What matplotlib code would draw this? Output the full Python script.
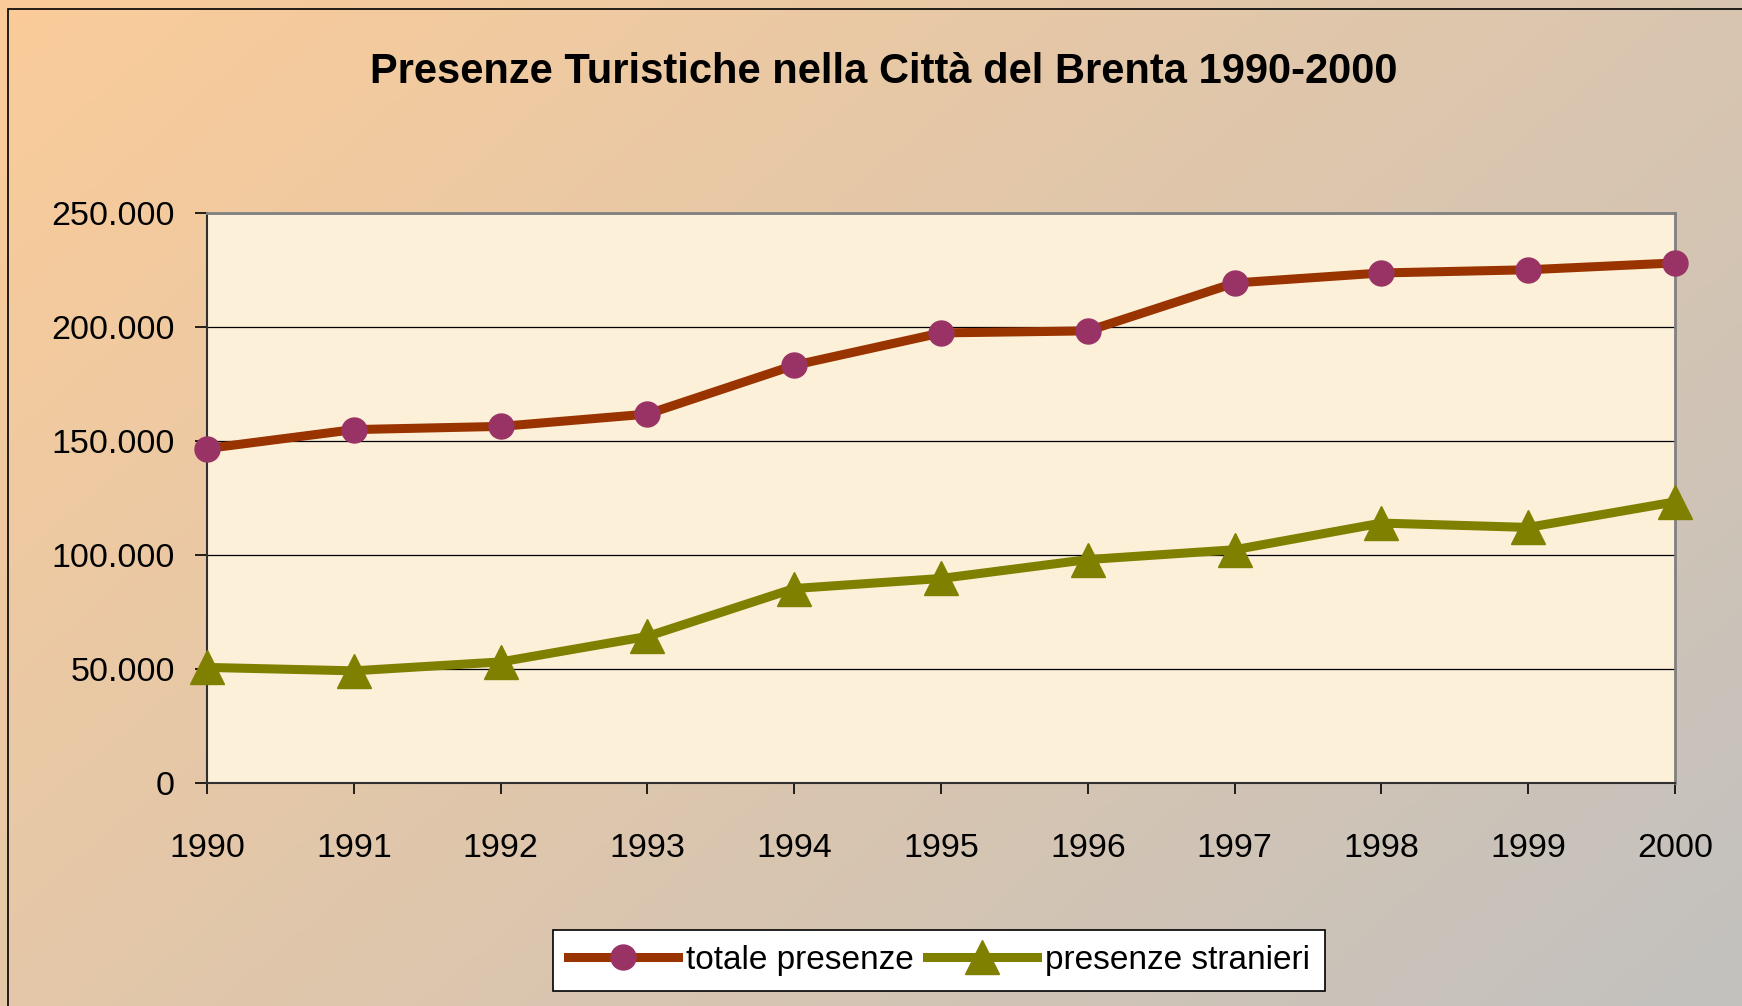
import numpy as np
import matplotlib
matplotlib.use("Agg")
import matplotlib.pyplot as plt
from matplotlib.ticker import FuncFormatter, MultipleLocator
from matplotlib.patches import Rectangle

# Data
years = [1990, 1991, 1992, 1993, 1994, 1995, 1996, 1997, 1998, 1999, 2000]
totale_presenze = [146700, 155000, 156400, 161800, 183200, 197400, 198300, 219300, 223700, 225100, 228100]
presenze_stranieri = [50700, 49200, 53100, 64300, 85300, 89700, 98000, 102300, 114000, 112100, 123300]

title = "Presenze Turistiche nella Città del Brenta 1990-2000"
labels = ["totale presenze", "presenze stranieri"]

plt.rcParams["font.family"] = ["Liberation Sans", "DejaVu Sans"]

W, H, DPI = 1742, 1006, 100
fig = plt.figure(figsize=(W / DPI, H / DPI), dpi=DPI)

# diagonal gradient background (peach -> grey)
bg = fig.add_axes([0, 0, 1, 1], zorder=-10)
gx, gy = np.meshgrid(np.linspace(0, 1, 400), np.linspace(0, 1, 240))
t = np.clip((gx * 0.6 + gy * 0.4), 0, 1)[..., None]
c0 = np.array([251, 204, 153]) / 255
c1 = np.array([194, 193, 191]) / 255
bg.imshow(c0 * (1 - t) + c1 * t, aspect="auto", extent=[0, 1, 1, 0])
bg.set_xlim(0, 1)
bg.set_ylim(1, 0)
bg.axis("off")

# border on the top and left of the chart area
fig.patches.append(Rectangle((8 / W, -0.01), 1.0, 1.01 - 9 / H, transform=fig.transFigure,
                             fill=False, edgecolor="black", linewidth=1.2))

ax = fig.add_axes([207 / W, 1 - 783 / H, (1675 - 207) / W, (783 - 213) / H])
ax.set_facecolor("#FCF0D9")

ax.plot(years, totale_presenze, color="#993300", linewidth=6.5, marker="o",
        markersize=18, markerfacecolor="#993366", markeredgecolor="#993366",
        clip_on=False, zorder=4, label=labels[0])
ax.plot(years, presenze_stranieri, color="#808000", linewidth=6.5, marker="^",
        markersize=25, markerfacecolor="#808000", markeredgecolor="#808000",
        clip_on=False, zorder=4, label=labels[1])

ax.set_xlim(1990, 2000)
ax.set_ylim(0, 250000)
ax.set_xticks(years)
ax.yaxis.set_major_locator(MultipleLocator(50000))
ax.yaxis.set_major_formatter(FuncFormatter(lambda v, p: f"{v:,.0f}".replace(",", ".")))
ax.grid(axis="y", color="black", linewidth=0.9)
ax.set_axisbelow(True)

for s in ["top", "right"]:
    ax.spines[s].set_color("#808080")
    ax.spines[s].set_linewidth(2)
for s in ["left", "bottom"]:
    ax.spines[s].set_color("#303030")
    ax.spines[s].set_linewidth(1.5)

ax.tick_params(axis="y", direction="out", length=9, width=1.2, pad=14, labelsize=24.5)
ax.tick_params(axis="x", direction="out", length=8, width=1.2, pad=28, labelsize=24.5)

fig.text(884 / W, 1 - 72 / H, title, ha="center", va="center",
         fontsize=30, fontweight="bold")

leg = fig.legend(loc="center", bbox_to_anchor=(939 / W, 1 - 960 / H),
                 bbox_transform=fig.transFigure, ncol=2, fontsize=24,
                 frameon=True, fancybox=False, handlelength=3.3,
                 handletextpad=0.25, columnspacing=0.4, borderpad=0.45,
                 borderaxespad=0, numpoints=1)
leg.get_frame().set_facecolor("white")
leg.get_frame().set_edgecolor("black")
leg.get_frame().set_linewidth(1.2)
leg.get_frame().set_alpha(1)

fig.savefig("out.png", dpi=DPI)
